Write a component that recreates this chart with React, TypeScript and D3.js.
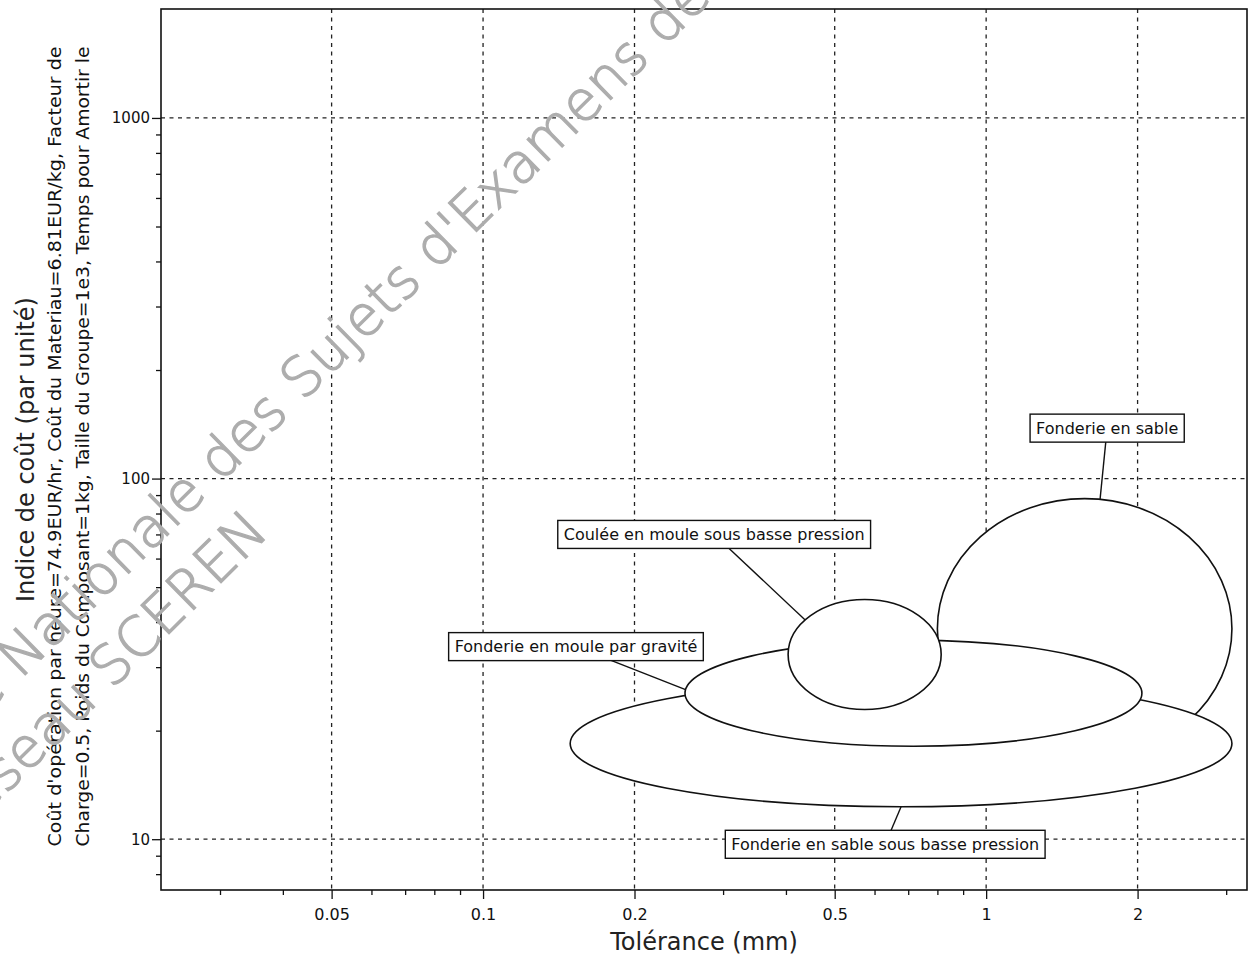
import React, { useEffect, useRef } from 'react';
import * as d3 from 'd3';

// processes, in drawing order (later ones sit on top)
const processNames = [
  'Fonderie en sable',
  'Fonderie en sable sous basse pression',
  'Fonderie en moule par gravité',
  'Coulée en moule sous basse pression',
];
const tolMin = [0.8, 0.149, 0.252, 0.404];
const tolMax = [3.08, 3.08, 2.04, 0.814];
const costMin = [16.7, 12.3, 18.1, 22.9];
const costMax = [88, 27.6, 35.6, 46.2];
// where each label box sits, in data units
const labelTol = [1.74, 0.63, 0.153, 0.288];
const labelCost = [138, 9.68, 34.2, 70];
// where the leader touches the bubble (degrees, screen orientation)
const leaderAngle = [-84, 90, 184, -141];

const xDomain = [0.0229, 3.3];
const yDomain = [7.23, 2005];
const xMajor = [0.05, 0.1, 0.2, 0.5, 1, 2];
const xMinor = [0.03, 0.04, 0.06, 0.07, 0.08, 0.09, 0.3, 0.4, 0.6, 0.7, 0.8, 0.9, 3];
const yMajor = [10, 100, 1000];
const yMinor = [8, 9, 20, 30, 40, 50, 60, 70, 80, 90, 200, 300, 400, 500, 600, 700, 800, 900];

const xTitle = 'Tolérance (mm)';
const yTitle = 'Indice de coût (par unité)';
const ySubtitle = [
  "Coût d'opération par heure=74.9EUR/hr,  Coût du Materiau=6.81EUR/kg, Facteur de",
  'Charge=0.5, Poids du Composant=1kg,  Taille du Groupe=1e3, Temps pour Amortir le',
];

const W = 1252;
const H = 958;
const margin = { top: 9, right: 5, bottom: 68, left: 161 };
const font = 'DejaVu Sans, Verdana, sans-serif';

const App: React.FC = () => {
  const ref = useRef<SVGSVGElement>(null);

  useEffect(() => {
    if (!ref.current) return;
    const svg = d3.select(ref.current);
    svg.selectAll('*').remove();

    const x = d3.scaleLog().domain(xDomain).range([margin.left, W - margin.right]);
    const y = d3.scaleLog().domain(yDomain).range([H - margin.bottom, margin.top]);
    const [left, right] = x.range();
    const [bottom, top] = y.range();

    svg.append('rect').attr('width', W).attr('height', H).attr('fill', 'white');

    // dashed grid
    const grid = svg.append('g')
      .attr('stroke', '#222')
      .attr('stroke-width', 1.3)
      .attr('stroke-dasharray', '4,4.5');
    grid.selectAll('line.gx').data(xMajor).join('line')
      .attr('class', 'gx')
      .attr('x1', d => x(d)).attr('x2', d => x(d))
      .attr('y1', top).attr('y2', bottom);
    grid.selectAll('line.gy').data(yMajor).join('line')
      .attr('class', 'gy')
      .attr('y1', d => y(d)).attr('y2', d => y(d))
      .attr('x1', left).attr('x2', right);

    // axes
    const xAxis = svg.append('g')
      .attr('transform', `translate(0,${bottom})`)
      .call(d3.axisBottom(x).tickValues(xMajor).tickFormat(d => String(d)).tickSize(9).tickPadding(10));
    const xMinorAxis = svg.append('g')
      .attr('transform', `translate(0,${bottom})`)
      .call(d3.axisBottom(x).tickValues(xMinor).tickFormat(() => '').tickSize(5));
    const yAxis = svg.append('g')
      .attr('transform', `translate(${left},0)`)
      .call(d3.axisLeft(y).tickValues(yMajor).tickFormat(d => String(d)).tickSize(9).tickPadding(2));
    const yMinorAxis = svg.append('g')
      .attr('transform', `translate(${left},0)`)
      .call(d3.axisLeft(y).tickValues(yMinor).tickFormat(() => '').tickSize(5));
    [xAxis, xMinorAxis, yAxis, yMinorAxis].forEach(g => {
      g.select('.domain').remove();
      g.attr('font-family', font).attr('font-size', 15);
      g.selectAll('line').attr('stroke', '#111').attr('stroke-width', 1.3);
      g.selectAll('text').attr('fill', '#111');
    });
    xAxis.attr('font-size', 16);

    // bubbles
    const bubbles = processNames.map((name, i) => {
      const x0 = x(tolMin[i]);
      const x1 = x(tolMax[i]);
      const y0 = y(costMax[i]);
      const y1 = y(costMin[i]);
      return {
        name,
        cx: (x0 + x1) / 2,
        cy: (y0 + y1) / 2,
        rx: (x1 - x0) / 2,
        ry: (y1 - y0) / 2,
        lx: x(labelTol[i]),
        ly: y(labelCost[i]),
        a: (leaderAngle[i] * Math.PI) / 180,
      };
    });

    svg.append('g').selectAll('ellipse').data(bubbles).join('ellipse')
      .attr('cx', d => d.cx).attr('cy', d => d.cy)
      .attr('rx', d => d.rx).attr('ry', d => d.ry)
      .attr('fill', 'white')
      .attr('stroke', '#111')
      .attr('stroke-width', 1.6);

    // leaders
    svg.append('g').selectAll('line').data(bubbles).join('line')
      .attr('x1', d => d.lx).attr('y1', d => d.ly)
      .attr('x2', d => d.cx + d.rx * Math.cos(d.a))
      .attr('y2', d => d.cy + d.ry * Math.sin(d.a))
      .attr('stroke', '#111')
      .attr('stroke-width', 1.4);

    // label boxes
    bubbles.forEach(d => {
      const g = svg.append('g');
      const rect = g.append('rect');
      const t = g.append('text')
        .attr('x', d.lx).attr('y', d.ly)
        .attr('text-anchor', 'middle')
        .attr('dominant-baseline', 'central')
        .attr('font-family', font)
        .attr('font-size', 16)
        .attr('fill', '#111')
        .text(d.name);
      const w = (t.node() as SVGTextElement).getComputedTextLength() + 12;
      rect.attr('x', d.lx - w / 2).attr('y', d.ly - 14)
        .attr('width', w).attr('height', 28)
        .attr('fill', 'white')
        .attr('stroke', '#111')
        .attr('stroke-width', 1.4);
    });

    // frame
    svg.append('rect')
      .attr('x', left).attr('y', top)
      .attr('width', right - left).attr('height', bottom - top)
      .attr('fill', 'none')
      .attr('stroke', '#111')
      .attr('stroke-width', 1.6);

    // titles
    svg.append('text')
      .attr('x', (left + right) / 2).attr('y', 950)
      .attr('text-anchor', 'middle')
      .attr('font-family', font)
      .attr('font-size', 24)
      .attr('fill', '#222')
      .text(xTitle);

    const midY = (top + bottom) / 2;
    svg.append('text')
      .attr('transform', `translate(34,${midY}) rotate(-90)`)
      .attr('text-anchor', 'middle')
      .attr('font-family', font)
      .attr('font-size', 24)
      .attr('fill', '#222')
      .text(yTitle);
    ySubtitle.forEach((line, i) => {
      svg.append('text')
        .attr('transform', `translate(${61 + i * 28},${midY - 3}) rotate(-90)`)
        .attr('text-anchor', 'middle')
        .attr('font-family', font)
        .attr('font-size', 17)
        .attr('textLength', 800)
        .attr('lengthAdjust', 'spacingAndGlyphs')
        .attr('fill', '#111')
        .text(line);
    });

    // scanned watermark
    const wm = svg.append('g')
      .attr('fill', '#adadad')
      .attr('stroke', '#adadad')
      .attr('stroke-width', 1.3)
      .attr('font-family', font)
      .attr('font-weight', 200)
      .attr('font-size', 55);
    const line1 = wm.append('g').attr('transform', 'translate(303,402) rotate(-44.5)');
    line1.append('text').attr('x', -18).attr('text-anchor', 'end').text('Base Nationale des');
    line1.append('text').attr('x', 0).text("Sujets d'Examens de l'enseignement professionnel");
    const line2 = wm.append('g').attr('transform', 'translate(112,690) rotate(-44.5)');
    line2.append('text').attr('x', -18).attr('text-anchor', 'end').text('Réseau');
    line2.append('text').attr('x', 0).text('SCEREN');
  }, []);

  return (
    <div style={{ position: 'absolute', left: 0, top: 0 }}>
      <svg ref={ref} width={W} height={H}></svg>
    </div>
  );
};

export default App;
